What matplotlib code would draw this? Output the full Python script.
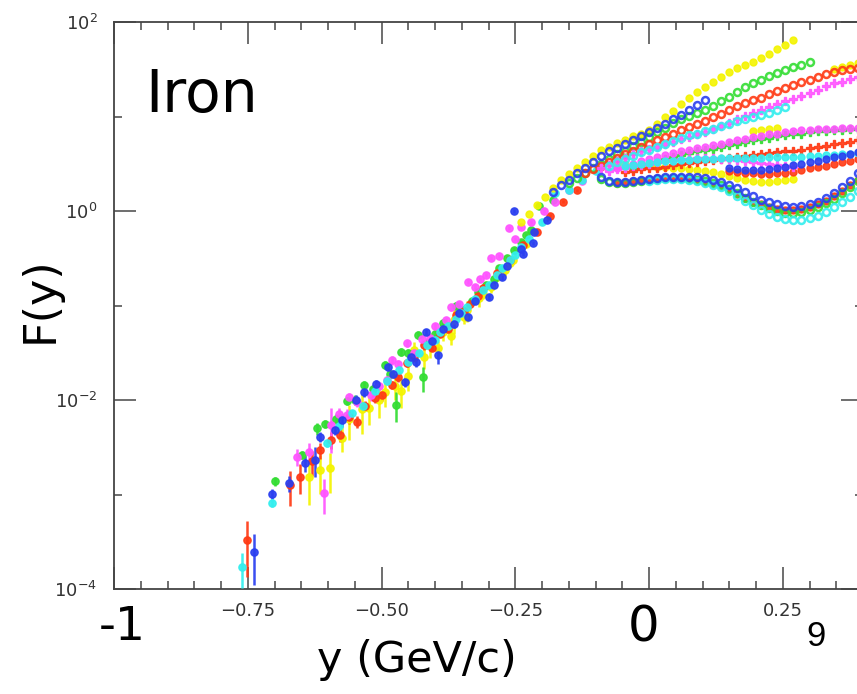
"""Iron F(y) scaling plot, rebuilt as a slide-style figure."""

import matplotlib
matplotlib.use("Agg")
import matplotlib.pyplot as plt
from matplotlib.ticker import FixedLocator, MultipleLocator, NullFormatter
import numpy as np

YELLOW = "#f4f400"
GREEN = "#33dd33"
RED = "#ff3a14"
MAGENTA = "#ff55ff"
CYAN = "#33eeee"
BLUE = "#2a3ff0"

# ---- low-y points with error bars: y (GeV/c), log10 F(y), relative error ----
yellow_lo_x = [-0.636, -0.615, -0.597, -0.574, -0.537, -0.524, -0.494, -0.463, -0.439,
               -0.41, -0.385, -0.364, -0.34, -0.318, -0.296, -0.27, -0.255]
yellow_lo_logF = [-2.81, -2.74, -2.72, -2.40, -2.10, -2.08, -1.92, -1.90, -1.47,
                  -1.40, -1.28, -1.15, -1.05, -0.92, -0.80, -0.62, -0.52]
yellow_lo_err = [0.5, 0.45, 0.45, 0.3, 0.45, 0.35, 0.3, 0.35, 0.2,
                 0.3, 0.2, 0.3, 0.25, 0.2, 0.15, 0.15, 0.1]
yellow_lo2_x = [-0.56, -0.505, -0.475, -0.45, -0.42, -0.395, -0.37, -0.345, -0.31, -0.285, -0.26, -0.23]
yellow_lo2_logF = [-2.20, -2.00, -1.85, -1.75, -1.55, -1.45, -1.32, -1.12, -0.88, -0.70, -0.55, -0.35]
yellow_lo2_err = [0.4, 0.35, 0.3, 0.3, 0.25, 0.2, 0.2, 0.15, 0.12, 0.1, 0.1, 0.08]

green_lo_x = [-0.699, -0.649, -0.606, -0.565, -0.532, -0.494, -0.472, -0.463, -0.431, -0.422,
              -0.40, -0.375, -0.35, -0.33, -0.305, -0.28, -0.253, -0.23, -0.206, -0.18]
green_lo_logF = [-2.86, -2.58, -2.25, -2.01, -1.84, -1.63, -2.05, -1.49, -1.31, -1.76,
                 -1.30, -1.22, -1.05, -0.95, -0.78, -0.60, -0.41, -0.25, 0.05, 0.12]
green_lo_err = [0.1, 0.1, 0.1, 0.1, 0.1, 0.1, 0.35, 0.1, 0.1, 0.3,
                0.1, 0.1, 0.1, 0.08, 0.08, 0.08, 0.08, 0.05, 0.05, 0.05]
green_lo2_x = [-0.62, -0.585, -0.55, -0.515, -0.485, -0.45, -0.415, -0.385, -0.36, -0.32,
               -0.29, -0.265, -0.24, -0.22]
green_lo2_logF = [-2.30, -2.20, -2.00, -1.88, -1.72, -1.50, -1.40, -1.18, -1.00, -0.86,
                  -0.72, -0.50, -0.33, -0.20]
green_lo2_err = [0.15, 0.12, 0.12, 0.1, 0.1, 0.1, 0.1, 0.08, 0.08, 0.08,
                 0.06, 0.06, 0.05, 0.05]

red_lo_x = [-0.751, -0.671, -0.652, -0.615, -0.578, -0.546, -0.513, -0.481, -0.453, -0.42,
            -0.39, -0.36, -0.335, -0.31, -0.285, -0.26, -0.235, -0.21, -0.185, -0.16, -0.135]
red_lo_logF = [-3.48, -2.90, -2.81, -2.53, -2.37, -2.23, -1.98, -1.84, -1.61, -1.42,
               -1.30, -1.10, -0.98, -0.82, -0.66, -0.52, -0.36, -0.22, -0.05, 0.10, 0.22]
red_lo_err = [0.6, 0.4, 0.35, 0.2, 0.15, 0.15, 0.12, 0.1, 0.1, 0.1,
              0.08, 0.08, 0.06, 0.06, 0.05, 0.05, 0.05, 0.05, 0.04, 0.04, 0.04]
red_lo2_x = [-0.63, -0.595, -0.56, -0.53, -0.5, -0.47, -0.44, -0.405, -0.375, -0.345, -0.32]
red_lo2_logF = [-2.65, -2.42, -2.18, -2.06, -1.95, -1.76, -1.55, -1.45, -1.25, -1.06, -0.90]
red_lo2_err = [0.3, 0.2, 0.15, 0.12, 0.12, 0.1, 0.1, 0.08, 0.08, 0.06, 0.06]

magenta_lo_x = [-0.658, -0.608, -0.595, -0.565, -0.561, -0.52, -0.49, -0.481, -0.453, -0.425, -0.40,
                -0.37, -0.338, -0.315, -0.296, -0.262, -0.24, -0.22, -0.197, -0.175, -0.15, -0.125]
magenta_lo_logF = [-2.60, -2.98, -2.26, -2.16, -1.97, -1.95, -1.79, -1.58, -1.40, -1.35, -1.22,
                   -1.02, -0.75, -0.72, -0.50, -0.18, -0.17, -0.12, 0.00, 0.10, 0.22, 0.32]
magenta_lo_err = [0.2, 0.4, 0.5, 0.15, 0.1, 0.12, 0.1, 0.1, 0.08, 0.1, 0.08,
                  0.08, 0.06, 0.06, 0.05, 0.05, 0.05, 0.05, 0.04, 0.04, 0.04, 0.04]
magenta_lo2_x = [-0.635, -0.58, -0.545, -0.505, -0.47, -0.44, -0.41, -0.38, -0.355, -0.325,
                 -0.305, -0.28, -0.25]
magenta_lo2_logF = [-2.55, -2.15, -2.02, -1.85, -1.62, -1.50, -1.34, -1.15, -0.98, -0.80,
                    -0.68, -0.48, -0.30]
magenta_lo2_err = [0.25, 0.15, 0.12, 0.1, 0.1, 0.1, 0.08, 0.08, 0.06, 0.06, 0.05, 0.05, 0.05]

cyan_lo_x = [-0.760, -0.705, -0.602, -0.556, -0.513, -0.468, -0.43, -0.40, -0.375, -0.351,
             -0.325, -0.30, -0.275, -0.25, -0.225, -0.20, -0.175, -0.15, -0.125, -0.10]
cyan_lo_logF = [-3.77, -3.09, -2.46, -2.14, -1.90, -1.68, -1.50, -1.36, -1.22, -1.08,
                -0.93, -0.78, -0.60, -0.47, -0.30, -0.12, 0.19, 0.22, 0.33, 0.42]
cyan_lo_err = [0.4, 0.1, 0.08, 0.08, 0.08, 0.08, 0.08, 0.07, 0.07, 0.07,
               0.06, 0.06, 0.06, 0.05, 0.05, 0.05, 0.05, 0.04, 0.04, 0.04]
cyan_lo2_x = [-0.58, -0.535, -0.49, -0.45, -0.415, -0.39, -0.36, -0.34, -0.31, -0.285, -0.26, -0.24]
cyan_lo2_logF = [-2.28, -2.06, -1.80, -1.60, -1.42, -1.28, -1.14, -1.02, -0.84, -0.68, -0.52, -0.38]
cyan_lo2_err = [0.12, 0.1, 0.1, 0.08, 0.08, 0.08, 0.06, 0.06, 0.06, 0.05, 0.05, 0.05]

blue_lo_x = [-0.738, -0.705, -0.673, -0.643, -0.624, -0.615, -0.587, -0.574, -0.533, -0.487, -0.457,
             -0.435, -0.416, -0.394, -0.365, -0.338, -0.30, -0.275, -0.253, -0.235, -0.216, -0.19]
blue_lo_logF = [-3.61, -2.99, -2.88, -2.67, -2.63, -2.39, -2.32, -2.21, -1.92, -1.65, -1.81,
                -1.60, -1.28, -1.52, -1.20, -1.12, -0.91, -0.70, 0.00, -0.45, -0.34, -0.10]
blue_lo_err = [0.55, 0.12, 0.2, 0.2, 0.35, 0.12, 0.1, 0.15, 0.1, 0.1, 0.12,
               0.1, 0.08, 0.2, 0.08, 0.08, 0.08, 0.06, 0.04, 0.05, 0.05, 0.04]
blue_lo2_x = [-0.548, -0.51, -0.478, -0.445, -0.405, -0.385, -0.355, -0.325, -0.29, -0.265, -0.24, -0.215]
blue_lo2_logF = [-2.00, -1.83, -1.72, -1.55, -1.38, -1.25, -1.08, -0.95, -0.78, -0.58, -0.40, -0.22]
blue_lo2_err = [0.12, 0.1, 0.1, 0.1, 0.08, 0.08, 0.08, 0.06, 0.06, 0.05, 0.05, 0.05]

# ---- dense chains near y ~ 0: y positions shared, each chain starts at an index ----
X_GRID = [-0.300, -0.285, -0.270, -0.255, -0.240, -0.225, -0.210, -0.195, -0.180, -0.165,
          -0.150, -0.135, -0.120, -0.105, -0.090, -0.075, -0.060, -0.045, -0.030, -0.015,
          0.000, 0.015, 0.030, 0.045, 0.060, 0.075, 0.090, 0.105, 0.120, 0.135,
          0.150, 0.165, 0.180, 0.195, 0.210, 0.225, 0.240, 0.255, 0.270, 0.285,
          0.300, 0.315, 0.330, 0.345, 0.360, 0.375, 0.390]

yellow_top_logF = [-0.12, -0.03, 0.06, 0.15, 0.24, 0.33, 0.39, 0.46, 0.52, 0.58,
                   0.65, 0.68, 0.72, 0.75, 0.79, 0.82, 0.86, 0.92, 0.99, 1.06,
                   1.13, 1.20, 1.26, 1.31, 1.36, 1.42, 1.47, 1.51, 1.55, 1.58,
                   1.62, 1.66, 1.71, 1.76, 1.81]
green_top_logF = [0.30, 0.35, 0.40, 0.45, 0.50, 0.55, 0.60, 0.64, 0.69, 0.73,
                  0.78, 0.84, 0.88, 0.93, 0.97, 1.01, 1.04, 1.07, 1.11, 1.16,
                  1.21, 1.26, 1.31, 1.35, 1.39, 1.43, 1.46, 1.49, 1.52, 1.55, 1.58]
red_top_logF = [0.40, 0.44, 0.48, 0.52, 0.56, 0.60, 0.64, 0.68, 0.71, 0.75,
                0.78, 0.82, 0.86, 0.89, 0.92, 0.95, 0.99, 1.03, 1.07, 1.11,
                1.14, 1.17, 1.20, 1.24, 1.27, 1.30, 1.33, 1.36, 1.39, 1.42,
                1.45, 1.47, 1.49, 1.50, 1.51]
magenta_top_logF = [0.45, 0.49, 0.53, 0.56, 0.60, 0.63, 0.66, 0.68, 0.71, 0.73,
                    0.76, 0.78, 0.81, 0.84, 0.87, 0.90, 0.93, 0.97, 1.01, 1.04,
                    1.07, 1.10, 1.13, 1.16, 1.19, 1.22, 1.25, 1.28, 1.32, 1.35,
                    1.37, 1.40, 1.42]
cyan_top_logF = [0.48, 0.52, 0.55, 0.58, 0.62, 0.65, 0.68, 0.71, 0.74, 0.77,
                 0.80, 0.82, 0.85, 0.87, 0.90, 0.92, 0.95, 0.97, 1.00, 1.02,
                 1.04, 1.07, 1.10]
blue_top_logF = [0.20, 0.27, 0.33, 0.40, 0.46, 0.52, 0.58, 0.63, 0.67, 0.71,
                 0.75, 0.79, 0.84, 0.88, 0.92, 0.97, 1.02, 1.07, 1.12, 1.17]
yellow_edge_logF = [1.50, 1.52, 1.54, 1.57]
yellow_short_logF = [0.85, 0.86, 0.87, 0.88]

magenta_mid_logF = [0.45, 0.48, 0.50, 0.53, 0.55, 0.57, 0.59, 0.61, 0.63, 0.65,
                    0.67, 0.68, 0.70, 0.71, 0.73, 0.75, 0.76, 0.78, 0.79, 0.81,
                    0.82, 0.84, 0.85, 0.86, 0.86, 0.87, 0.87, 0.87, 0.88, 0.88, 0.88]
green_mid_logF = [0.46, 0.48, 0.50, 0.52, 0.55, 0.57, 0.59, 0.61, 0.63, 0.65,
                  0.66, 0.68, 0.70, 0.71, 0.73, 0.75, 0.76, 0.77, 0.79, 0.80,
                  0.81, 0.82, 0.84, 0.85, 0.85, 0.86, 0.86, 0.87, 0.87]
red_mid_logF = [0.41, 0.42, 0.44, 0.45, 0.46, 0.47, 0.49, 0.50, 0.51, 0.52,
                0.53, 0.54, 0.55, 0.56, 0.57, 0.58, 0.59, 0.60, 0.61, 0.62,
                0.63, 0.64, 0.65, 0.67, 0.68, 0.69, 0.71, 0.72, 0.73, 0.75]
cyan_mid_logF = [0.48, 0.49, 0.50, 0.51, 0.52, 0.53, 0.53, 0.54, 0.54, 0.55,
                 0.55, 0.55, 0.56, 0.56, 0.56, 0.56, 0.56, 0.56, 0.57, 0.57,
                 0.57, 0.57, 0.57, 0.58, 0.58, 0.59, 0.59, 0.60, 0.60, 0.61]
magenta_low_logF = [0.42, 0.44, 0.46, 0.48, 0.49, 0.50, 0.52, 0.53, 0.54, 0.55,
                    0.55, 0.56, 0.56, 0.56, 0.55, 0.55, 0.54, 0.53, 0.52, 0.51,
                    0.50, 0.49, 0.48, 0.47]
blue_mid_logF = [0.45, 0.44, 0.43, 0.43, 0.43, 0.44, 0.45, 0.47, 0.49, 0.50,
                 0.52, 0.53, 0.55, 0.57, 0.58, 0.60, 0.62]
red_low_logF = [0.42, 0.41, 0.40, 0.40, 0.39, 0.39, 0.40, 0.40, 0.41, 0.43,
                0.45, 0.47, 0.48, 0.50, 0.52, 0.53, 0.55]
yellow_low_logF = [0.50, 0.50, 0.49, 0.49, 0.48, 0.47, 0.47, 0.46, 0.45, 0.44,
                   0.43, 0.42, 0.41, 0.39, 0.37, 0.35, 0.33, 0.32, 0.31, 0.31,
                   0.32, 0.33, 0.34]

blue_dip_logF = [0.36, 0.32, 0.31, 0.31, 0.32, 0.33, 0.34, 0.35, 0.36, 0.36,
                 0.36, 0.36, 0.36, 0.35, 0.33, 0.31, 0.28, 0.24, 0.20, 0.16,
                 0.12, 0.09, 0.07, 0.05, 0.04, 0.05, 0.07, 0.10, 0.14, 0.19,
                 0.25, 0.32, 0.40]
green_dip_logF = [0.34, 0.31, 0.30, 0.30, 0.31, 0.32, 0.33, 0.34, 0.35, 0.35,
                  0.35, 0.34, 0.33, 0.32, 0.30, 0.27, 0.23, 0.19, 0.14, 0.10,
                  0.06, 0.03, 0.00, -0.02, -0.02, -0.01, 0.01, 0.04, 0.08, 0.13,
                  0.19, 0.25, 0.32]
red_dip_logF = [0.30, 0.31, 0.32, 0.33, 0.34, 0.35, 0.35, 0.35, 0.35, 0.34,
                0.33, 0.31, 0.29, 0.26, 0.22, 0.18, 0.14, 0.10, 0.07, 0.04,
                0.02, 0.01, 0.01, 0.02, 0.04, 0.07, 0.11, 0.16, 0.21, 0.27, 0.33]
cyan_dip_logF = [0.32, 0.33, 0.34, 0.34, 0.34, 0.33, 0.32, 0.30, 0.28, 0.25,
                 0.21, 0.16, 0.11, 0.06, 0.01, -0.03, -0.06, -0.08, -0.09, -0.09,
                 -0.07, -0.05, -0.01, 0.04, 0.09, 0.15, 0.21]

X_MAJOR = [-1.0, -0.75, -0.5, -0.25, 0.0, 0.25]
X_LABELS = ["", "\u22120.75", "\u22120.50", "\u22120.25", "", "0.25"]
Y_MAJOR = [1e-4, 1e-2, 1e0, 1e2]
Y_LABELS = [r"$\mathregular{10^{-4}}$", r"$\mathregular{10^{-2}}$",
            r"$\mathregular{10^{0}}$", r"$\mathregular{10^{2}}$"]
Y_MINOR = [1e-3, 1e-1, 1e1]


def _low(ax, xs, logf, err, color):
    f = 10 ** np.array(logf)
    ax.errorbar(xs, f, yerr=f * np.array(err), fmt="o", color=color, ms=5.2,
                elinewidth=1.8, capsize=0, alpha=0.92, zorder=3)


def _chain(ax, i0, logf, color, marker="o", hollow=False):
    xs = X_GRID[i0:i0 + len(logf)]
    f = 10 ** np.array(logf)
    face = "none" if hollow else color
    ms = 5.0 if marker == "o" else 5.5
    ax.plot(xs, f, linestyle="none", marker=marker, ms=ms, mfc=face, mec=color,
            mew=1.8 if hollow else 1.0, alpha=0.9, zorder=4)


def main():
    fig = plt.figure(figsize=(8.57, 6.94), dpi=100)
    # axes runs a little past the right edge, as in the cropped original
    ax = fig.add_axes([114 / 857, 105 / 694, 749 / 857, 567 / 694])

    _low(ax, yellow_lo_x, yellow_lo_logF, yellow_lo_err, YELLOW)
    _low(ax, yellow_lo2_x, yellow_lo2_logF, yellow_lo2_err, YELLOW)
    _low(ax, green_lo_x, green_lo_logF, green_lo_err, GREEN)
    _low(ax, green_lo2_x, green_lo2_logF, green_lo2_err, GREEN)
    _low(ax, red_lo_x, red_lo_logF, red_lo_err, RED)
    _low(ax, red_lo2_x, red_lo2_logF, red_lo2_err, RED)
    _low(ax, magenta_lo_x, magenta_lo_logF, magenta_lo_err, MAGENTA)
    _low(ax, magenta_lo2_x, magenta_lo2_logF, magenta_lo2_err, MAGENTA)
    _low(ax, cyan_lo_x, cyan_lo_logF, cyan_lo_err, CYAN)
    _low(ax, cyan_lo2_x, cyan_lo2_logF, cyan_lo2_err, CYAN)
    _low(ax, blue_lo_x, blue_lo_logF, blue_lo_err, BLUE)
    _low(ax, blue_lo2_x, blue_lo2_logF, blue_lo2_err, BLUE)

    _chain(ax, 4, yellow_top_logF, YELLOW)
    _chain(ax, 43, yellow_edge_logF, YELLOW)
    _chain(ax, 33, yellow_short_logF, YELLOW)
    _chain(ax, 16, yellow_low_logF, YELLOW)
    _chain(ax, 10, green_top_logF, GREEN, hollow=True)
    _chain(ax, 18, green_mid_logF, GREEN, marker="P")
    _chain(ax, 12, red_top_logF, RED, hollow=True)
    _chain(ax, 17, red_mid_logF, RED, marker="P")
    _chain(ax, 30, red_low_logF, RED)
    _chain(ax, 14, magenta_top_logF, MAGENTA, marker="P")
    _chain(ax, 16, magenta_mid_logF, MAGENTA)
    _chain(ax, 15, magenta_low_logF, MAGENTA, marker="P")
    _chain(ax, 15, cyan_top_logF, CYAN, hollow=True)
    _chain(ax, 17, cyan_mid_logF, CYAN)
    _chain(ax, 8, blue_top_logF, BLUE, hollow=True)
    _chain(ax, 30, blue_mid_logF, BLUE)
    _chain(ax, 16, red_dip_logF, RED)
    _chain(ax, 14, green_dip_logF, GREEN, hollow=True)
    _chain(ax, 20, cyan_dip_logF, CYAN, hollow=True)
    _chain(ax, 14, blue_dip_logF, BLUE, hollow=True)

    ax.set_yscale("log")
    ax.set_xlim(-1.0, 0.4)
    ax.set_ylim(1e-4, 1e2)

    ax.xaxis.set_major_locator(FixedLocator(X_MAJOR))
    ax.set_xticklabels(X_LABELS, fontsize=13, color="#333333")
    ax.xaxis.set_minor_locator(MultipleLocator(0.05))
    ax.yaxis.set_major_locator(FixedLocator(Y_MAJOR))
    ax.set_yticklabels(Y_LABELS, fontsize=13, color="#333333")
    ax.yaxis.set_minor_locator(FixedLocator(Y_MINOR))
    ax.yaxis.set_minor_formatter(NullFormatter())

    ax.tick_params(which="both", direction="in", top=True, right=True,
                   color="#555555", width=1.2)
    ax.tick_params(which="major", length=16)
    ax.tick_params(which="minor", length=6)
    ax.tick_params(axis="x", which="major", pad=9)
    ax.tick_params(axis="y", which="major", pad=12)
    for sp in ax.spines.values():
        sp.set_color("#444444")
        sp.set_linewidth(1.3)

    # slide annotations laid over the original figure
    fig.text(145 / 857, 1 - 112 / 694, "Iron", fontsize=42, ha="left", va="baseline")
    fig.text(40 / 857, 1 - 300 / 694, "F(y)", fontsize=32, rotation=90,
             ha="center", va="center")
    fig.text(417 / 857, 1 - 660 / 694, "y (GeV/c)", fontsize=31,
             ha="center", va="center")
    fig.text(122 / 857, 1 - 628 / 694, "-1", fontsize=34, ha="center", va="center")
    fig.text(644 / 857, 1 - 627 / 694, "0", fontsize=36, ha="center", va="center")
    fig.text(816 / 857, 1 - 636 / 694, "9", fontsize=25, ha="center", va="center",
             family="Liberation Sans")

    fig.savefig("out.png", dpi=100)


if __name__ == "__main__":
    main()
